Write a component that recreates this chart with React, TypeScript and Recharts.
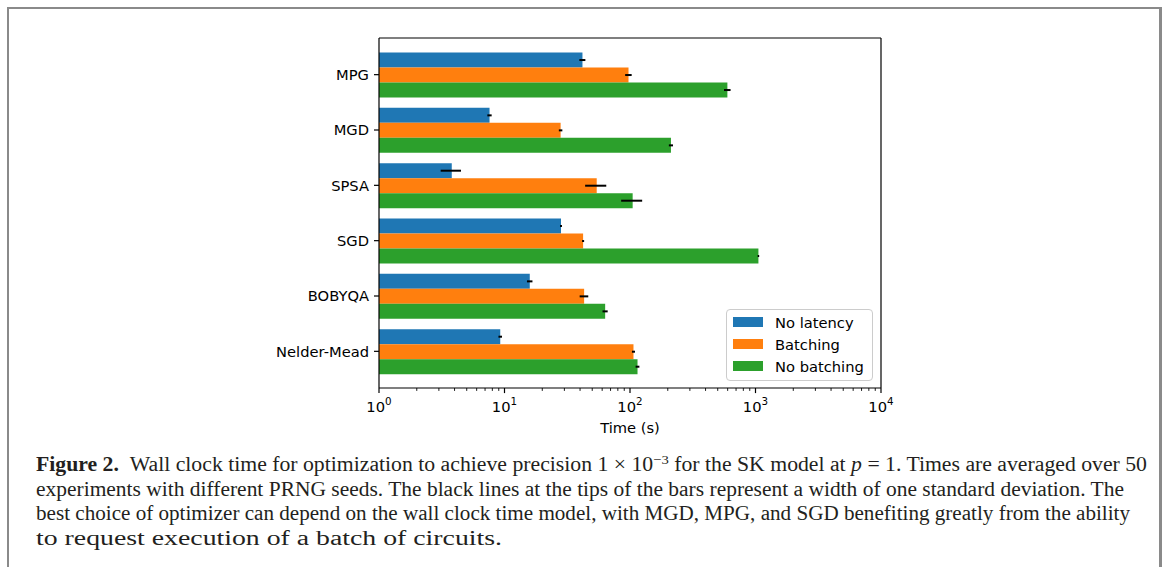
import React from "react";
import { BarChart, Bar, XAxis, YAxis, ErrorBar, Legend, Label } from "recharts";

const BLUE = "#1f77b4";
const ORANGE = "#ff7f0e";
const GREEN = "#2ca02c";
const FONT = "DejaVu Sans";

const categories = ["MPG", "MGD", "SPSA", "SGD", "BOBYQA", "Nelder-Mead"];
const seriesNames = ["No latency", "Batching", "No batching"];
const noLatency = [41.8, 7.6, 3.8, 28.2, 15.9, 9.25];
const noLatencyStd = [2.3, 0.3, 0.7, 0.5, 0.8, 0.3];
const batching = [97.3, 28.0, 54.3, 42.3, 43.1, 106.6];
const batchingStd = [5.8, 0.9, 10.4, 0.8, 3.4, 3];
const noBatching = [597, 212, 105, 1055, 63.4, 114.8];
const noBatchingStd = [36, 8, 20, 15, 3, 4];

// log axis: labelled decades plus the 2..9 minor ticks in between
const decades = [1, 10, 100, 1000, 10000];
const decadeExps = ["0", "1", "2", "3", "4"];
const minorMults = [2, 3, 4, 5, 6, 7, 8, 9];
const xTicks = [
  ...decades,
  ...decades.slice(0, -1).flatMap((d) => minorMults.map((m) => m * d)),
].sort((a, b) => a - b);

const data = categories.map((name, i) => ({
  name,
  noLatency: noLatency[i],
  noLatencyErr: noLatencyStd[i],
  batching: batching[i],
  batchingErr: batchingStd[i],
  noBatching: noBatching[i],
  noBatchingErr: noBatchingStd[i],
}));

function LogTick(props: any) {
  const { x, y, payload } = props;
  const idx = decades.indexOf(payload.value);
  if (idx < 0) {
    return <line x1={x} x2={x} y1={y} y2={y + 2.9} stroke="#000" strokeWidth={0.9} />;
  }
  return (
    <g>
      <line x1={x} x2={x} y1={y} y2={y + 5.1} stroke="#000" strokeWidth={1.2} />
      <text x={x} y={y + 23.5} textAnchor="middle" fontFamily={FONT} fontSize={14.7} fill="#000">
        10
        <tspan dy={-6.5} fontSize={10.3}>{decadeExps[idx]}</tspan>
      </text>
    </g>
  );
}

function LegendBox(props: any) {
  // keep the series order instead of the alphabetical one
  const items = [...(props.payload || [])].sort(
    (a: any, b: any) => seriesNames.indexOf(a.value) - seriesNames.indexOf(b.value)
  );
  return (
    <div
      style={{
        boxSizing: "border-box",
        width: 147,
        height: 72,
        border: "1px solid #cccccc",
        borderRadius: 4,
        background: "rgba(255,255,255,0.8)",
        padding: "1px 0 0 6px",
        fontFamily: FONT,
        fontSize: 14.7,
        color: "#000",
      }}
    >
      {items.map((entry: any) => (
        <div key={entry.value} style={{ display: "flex", alignItems: "center", height: 22 }}>
          <span style={{ display: "inline-block", width: 30, height: 10, background: entry.color, marginRight: 12 }} />
          <span>{entry.value}</span>
        </div>
      ))}
    </div>
  );
}

function Caption() {
  const text = { fontFamily: "Liberation Serif", fontSize: 20, fill: "#231f20", lengthAdjust: "spacingAndGlyphs" };
  return (
    <svg width={1165} height={567} style={{ position: "absolute", left: 0, top: 0 }}>
      <text x={36} y={471} textLength={1111} {...text}>
        <tspan fontWeight="bold">Figure 2.</tspan>
        <tspan dx={10}>Wall clock time for optimization to achieve precision 1 × 10</tspan>
        <tspan dy={-7} fontSize={13.5}>−3</tspan>
        <tspan dy={7}> for the SK model at </tspan>
        <tspan fontStyle="italic">p</tspan>
        <tspan> = 1. Times are averaged over 50</tspan>
      </text>
      <text x={36} y={495.5} textLength={1088} {...text}>
        experiments with different PRNG seeds. The black lines at the tips of the bars represent a width of one standard deviation. The
      </text>
      <text x={36} y={520} textLength={1094} {...text}>
        best choice of optimizer can depend on the wall clock time model, with MGD, MPG, and SGD benefiting greatly from the ability
      </text>
      <text x={36} y={544.5} textLength={466} {...text}>
        to request execution of a batch of circuits.
      </text>
    </svg>
  );
}

export default function App() {
  return (
    <div style={{ position: "absolute", left: 0, top: 0, width: 1165, height: 567, background: "#fff" }}>
      {/* page frame */}
      <div style={{ position: "absolute", left: 7, top: 7, width: 2, height: 560, background: "#8a8a8a" }} />
      <div style={{ position: "absolute", left: 7, top: 7, width: 1155, height: 2, background: "#8a8a8a" }} />
      <div style={{ position: "absolute", left: 1159, top: 7, width: 3, height: 560, background: "#8a8a8a" }} />

      <div style={{ position: "absolute", left: 0, top: 0 }}>
        <BarChart
          width={1165}
          height={438}
          data={data}
          layout="vertical"
          margin={{ top: 37, right: 283, bottom: 0, left: 0 }}
          barCategoryGap="10%"
          barGap={0}
        >
          <XAxis
            type="number"
            scale="log"
            domain={[1, 10000]}
            allowDataOverflow
            ticks={xTicks}
            interval={0}
            tickSize={0}
            tickMargin={0}
            tickLine={false}
            tick={(p: any) => <LogTick {...p} />}
            axisLine={{ stroke: "#000", strokeWidth: 1.2 }}
            height={50}
          >
            <Label
              content={(p: any) => {
                const vb = p.viewBox;
                return (
                  <text x={vb.x + vb.width / 2} y={vb.y + 45} textAnchor="middle" fontFamily={FONT} fontSize={14.7} fill="#000">
                    Time (s)
                  </text>
                );
              }}
            />
          </XAxis>
          {/* top and right spines */}
          <XAxis
            xAxisId="top"
            orientation="top"
            type="number"
            scale="log"
            domain={[1, 10000]}
            allowDataOverflow
            height={1}
            tick={false}
            tickLine={false}
            axisLine={{ stroke: "#000", strokeWidth: 1.2 }}
          />
          <YAxis
            dataKey="name"
            type="category"
            width={379}
            padding={{ top: 9, bottom: 9 }}
            tickSize={5}
            tickMargin={5}
            tickLine={{ stroke: "#000", strokeWidth: 1.2 }}
            axisLine={{ stroke: "#000", strokeWidth: 1.2 }}
            tick={{ fill: "#000", fontSize: 14.7, fontFamily: FONT }}
          />
          <YAxis
            yAxisId="right"
            orientation="right"
            dataKey="name"
            type="category"
            width={1}
            tick={false}
            tickLine={false}
            axisLine={{ stroke: "#000", strokeWidth: 1.2 }}
          />
          <Legend
            layout="vertical"
            align="center"
            verticalAlign="middle"
            wrapperStyle={{ position: "absolute", left: 726, top: 309, width: 147, height: 72 }}
            content={(p: any) => <LegendBox {...p} />}
          />
          <Bar dataKey="noLatency" name="No latency" fill={BLUE} isAnimationActive={false}>
            <ErrorBar dataKey="noLatencyErr" direction="x" width={0} stroke="#000" strokeWidth={2} />
          </Bar>
          <Bar dataKey="batching" name="Batching" fill={ORANGE} isAnimationActive={false}>
            <ErrorBar dataKey="batchingErr" direction="x" width={0} stroke="#000" strokeWidth={2} />
          </Bar>
          <Bar dataKey="noBatching" name="No batching" fill={GREEN} isAnimationActive={false}>
            <ErrorBar dataKey="noBatchingErr" direction="x" width={0} stroke="#000" strokeWidth={2} />
          </Bar>
        </BarChart>
      </div>

      <Caption />
    </div>
  );
}
